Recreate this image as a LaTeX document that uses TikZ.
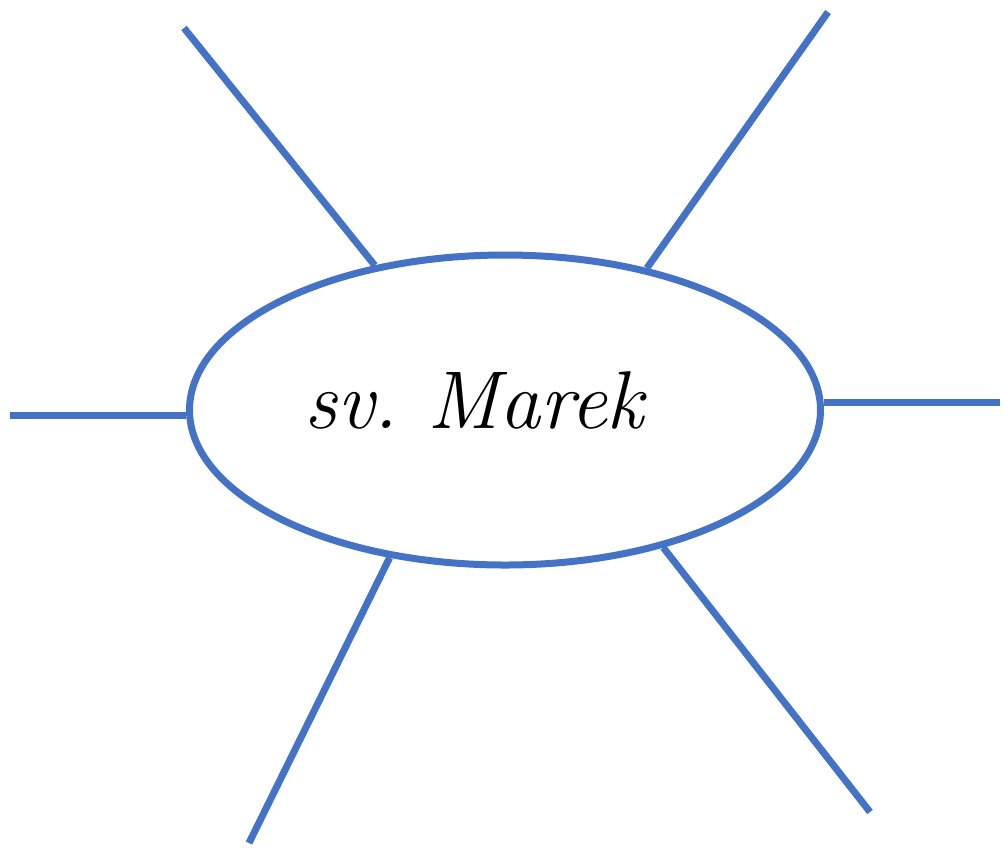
\documentclass[tikz,border=0pt]{standalone}
\usetikzlibrary{positioning,shapes.geometric}
\definecolor{spokeblue}{HTML}{4472C4}

\begin{document}
\begin{tikzpicture}[
    x=1pt, y=-1pt,
    rimline/.style ={draw=spokeblue, line width=7pt, ellipse, minimum width=631pt, minimum height=310pt, inner sep=0pt},
    spokeline/.style={draw=spokeblue, line width=7pt},
    namefont/.style ={font=\fontsize{82}{94}\selectfont\itshape, inner sep=0pt, anchor=base},
  ]
  \useasboundingbox (0,0) rectangle (1003,847);
  % ---- centre ellipse + name ----
  \node[rimline] (mark) at (505,410) {};
  \node[namefont] (name) at (474,428) {sv.\ Marek};

  % ---- free ends of the spokes ----
  \coordinate (tl) at (184,28);
  \coordinate (tr) at (828,12);
  \coordinate (lf) at (10,415);
  \coordinate (rt) at (1000,402);
  \coordinate (bl) at (249,843);
  \coordinate (br) at (870,812);

  % ---- spokes ----
  \draw[spokeline] (mark.132.9) -- (tl);
  \draw[spokeline] (mark.45)    -- (tr);
  \draw[spokeline] (lf -| mark.west) -- (lf);
  \draw[spokeline] (rt -| mark.east) -- (rt);
  \draw[spokeline] (mark.232.1) -- (bl);
  \draw[spokeline] (mark.319.3) -- (br);
\end{tikzpicture}
\end{document}
